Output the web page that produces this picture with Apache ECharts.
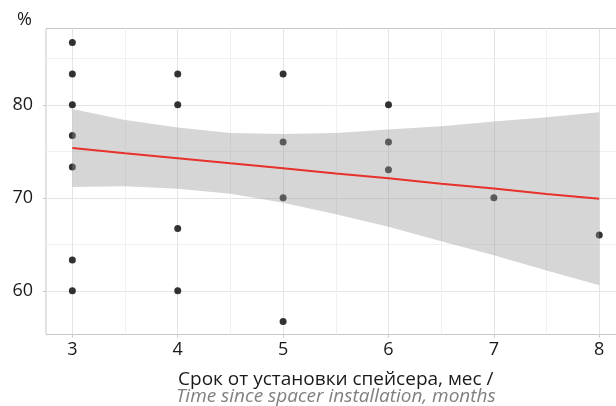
<!DOCTYPE html>
<html><head><meta charset="utf-8">
<script src="https://cdn.jsdelivr.net/npm/echarts@6/dist/echarts.min.js"></script>
<style>html,body{margin:0;padding:0;background:#fff}#c{width:616px;height:406px}</style>
</head><body><div id="c"></div>
<script>
// observations
const months  = [3, 3, 3, 3, 3, 3, 3, 4, 4, 4, 4, 5, 5, 5, 5, 6, 6, 6, 7, 8];
const percent = [86.7, 83.3, 80, 76.7, 73.3, 63.3, 60, 83.3, 80, 66.7, 60, 83.3, 76, 70, 56.7, 80, 76, 73, 70, 66];
// linear fit with confidence band
const fitX    = [3, 3.5, 4, 4.5, 5, 5.5, 6, 6.5, 7, 7.5, 8];
const fitY    = [75.35, 74.8, 74.26, 73.7, 73.17, 72.6, 72.1, 71.5, 71.0, 70.4, 69.9];
const ciUpper = [79.55, 78.35, 77.55, 76.97, 76.87, 76.97, 77.35, 77.7, 78.2, 78.65, 79.2];
const ciLower = [71.15, 71.25, 70.96, 70.43, 69.47, 68.23, 66.88, 65.33, 63.82, 62.17, 60.6];
// ticks
const xTicks = [3, 4, 5, 6, 7, 8];
const xMinor = [3.5, 4.5, 5.5, 6.5, 7.5];
const yTicks = [60, 70, 80];
const yMinor = [65, 75, 85];
const xTitleRu = 'Срок от установки спейсера, мес /';
const xTitleEn = 'Time since spacer installation, months';
const yTitle = '%';

const FONT = '"Open Sans", sans-serif';
const chart = echarts.init(document.getElementById('c'), null, {renderer: 'canvas'});
const X_MIN = 2.75, X_MAX = 8.25, Y_MIN = 55.3, Y_MAX = 88.2;

chart.setOption({
  animation: false,
  textStyle: {fontFamily: FONT},
  grid: {left: 46, width: 579.6, top: 28.5, height: 306, show: true, borderColor: '#c8c8c8', borderWidth: 1, backgroundColor: '#fff', containLabel: false, outerBoundsMode: 'none'},
  xAxis: [{
    type: 'value', min: X_MIN, max: X_MAX,
    axisLine: {show: false},
    axisTick: {show: true, customValues: xTicks, length: 3, lineStyle: {color: '#c8c8c8'}},
    axisLabel: {customValues: xTicks, fontSize: 18, color: '#1a1a1a', margin: 6, fontFamily: FONT},
    splitLine: {show: true, lineStyle: {color: '#e4e4e4', width: 1}},
    name: '{a|' + xTitleRu + '}\n{b|' + xTitleEn + '}',
    nameLocation: 'middle', nameGap: 37,
    nameTextStyle: {rich: {
      a: {fontSize: 19, color: '#1a1a1a', lineHeight: 17, fontFamily: FONT},
      b: {fontSize: 19, color: '#808080', fontStyle: 'italic', lineHeight: 17, fontFamily: FONT}
    }}
  }, {
    type: 'value', min: X_MIN, max: X_MAX, position: 'bottom',
    axisLine: {show: false},
    axisTick: {show: false, customValues: xMinor},
    axisLabel: {show: false, customValues: xMinor},
    splitLine: {show: true, lineStyle: {color: '#f0f0f0', width: 1}}
  }],
  yAxis: [{
    type: 'value', min: Y_MIN, max: Y_MAX,
    axisLine: {show: false},
    axisTick: {show: true, customValues: yTicks, length: 3, lineStyle: {color: '#c8c8c8'}},
    axisLabel: {customValues: yTicks, fontSize: 18, color: '#1a1a1a', margin: 13, fontFamily: FONT},
    splitLine: {show: true, lineStyle: {color: '#e4e4e4', width: 1}},
    name: yTitle, nameLocation: 'end', nameGap: 9,
    nameTextStyle: {fontSize: 18, color: '#1a1a1a', align: 'right', verticalAlign: 'middle', padding: [0, 14, 0, 0], fontFamily: FONT}
  }, {
    type: 'value', min: Y_MIN, max: Y_MAX, position: 'left',
    axisLine: {show: false},
    axisTick: {show: false, customValues: yMinor},
    axisLabel: {show: false, customValues: yMinor},
    splitLine: {show: true, lineStyle: {color: '#f0f0f0', width: 1}}
  }],
  series: [{
    type: 'scatter', z: 2,
    data: months.map((m, i) => [m, percent[i]]),
    symbolSize: 7, itemStyle: {color: '#000'}
  }, {
    type: 'custom', z: 3,
    data: fitX.map((x, i) => [x, ciUpper[i], ciLower[i]]),
    encode: {x: 0, y: [1, 2]},
    renderItem: function (params, api) {
      if (params.dataIndex !== 0) return null;
      const pts = [];
      for (let i = 0; i < fitX.length; i++) pts.push(api.coord([fitX[i], ciUpper[i]]));
      for (let i = fitX.length - 1; i >= 0; i--) pts.push(api.coord([fitX[i], ciLower[i]]));
      return {type: 'polygon', shape: {points: pts}, style: {fill: 'rgba(153,153,153,0.4)'}};
    }
  }, {
    type: 'line', z: 4,
    data: fitX.map((x, i) => [x, fitY[i]]),
    showSymbol: false, lineStyle: {color: '#e8312a', width: 2}
  }]
});
</script>
</body></html>
